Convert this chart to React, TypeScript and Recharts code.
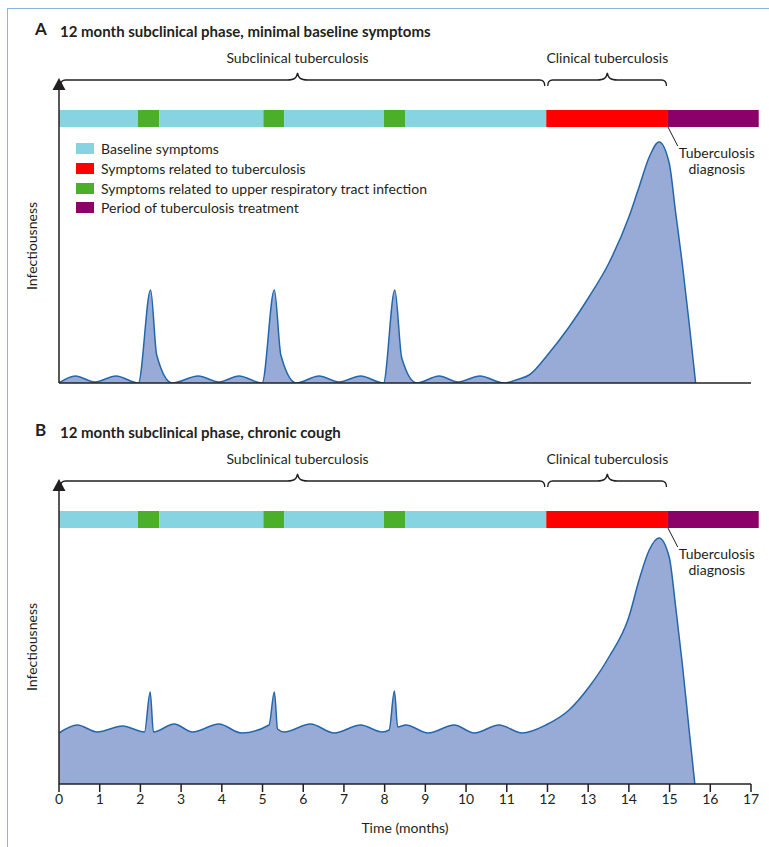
import React from 'react';
import {
  AreaChart,
  Area,
  XAxis,
  YAxis,
  ReferenceArea,
  ReferenceLine,
  ReferenceDot,
  Legend,
} from 'recharts';

const FONT = 'Lato, "Open Sans", "DejaVu Sans", sans-serif';
const INK = '#231F20';

// ---------- data ----------
const monthTicks = [0, 1, 2, 3, 4, 5, 6, 7, 8, 9, 10, 11, 12, 13, 14, 15, 16, 17];

// Panel A: 12 month subclinical phase, minimal baseline symptoms
const monthsA = [0, 0.4, 0.88, 1.4, 1.95, 2.25, 2.4, 2.78, 3.42, 3.93, 4.42, 4.99, 5.29, 5.45, 5.83, 6.39, 6.88, 7.41, 7.97, 8.25, 8.42, 8.79, 9.34, 9.8, 10.34, 10.93, 11.3, 11.55, 12.04, 12.53, 13.02, 13.51, 14.0, 14.25, 14.5, 14.74, 14.99, 15.15, 15.31, 15.48, 15.64];
const infectiousnessA = [0, 7, 1, 7, 0, 93, 28, 0, 7, 1, 7, 0, 93, 28, 0, 7, 1, 7, 0, 93, 25, 0, 7, 1, 7, 0, 4, 8, 30, 56, 86, 120, 166, 196, 226, 241, 220, 170, 120, 60, 0];

// Panel B: 12 month subclinical phase, chronic cough
const monthsB = [0, 0.45, 0.94, 1.56, 2.1, 2.24, 2.32, 2.83, 3.28, 3.93, 4.48, 5.16, 5.29, 5.37, 5.53, 6.18, 6.76, 7.41, 7.94, 8.11, 8.24, 8.32, 8.52, 9.07, 9.71, 10.2, 10.81, 11.38, 11.96, 12.53, 13.02, 13.51, 14.0, 14.25, 14.5, 14.74, 14.99, 15.15, 15.31, 15.48, 15.62];
const infectiousnessB = [51, 59, 52, 58, 52, 92, 52, 60, 52, 60, 51, 59, 92, 55, 52, 60, 51, 59, 52, 54, 93, 57, 59, 51, 59, 51, 59, 51, 59, 74, 97, 127, 167, 204, 234, 246, 227, 177, 121, 54, 0];

// symptom bar segments (months)
const segmentStarts = [0, 1.94, 2.46, 5.02, 5.53, 7.98, 8.5, 11.97, 14.96];
const segmentEnds = [1.94, 2.46, 5.02, 5.53, 7.98, 8.5, 11.97, 14.96, 17.19];
const segmentKinds = ['baseline', 'uri', 'baseline', 'uri', 'baseline', 'uri', 'baseline', 'tb', 'treatment'];

// phases (braces)
const phaseLabels = ['Subclinical tuberculosis', 'Clinical tuberculosis'];
const phaseStarts = [0, 11.97];
const phaseEnds = [11.97, 14.96];
const phaseTips = [5.86, 13.47];

const diagnosisMonth = 14.96;

const legendKinds = ['baseline', 'tb', 'uri', 'treatment'];
const legendLabels = [
  'Baseline symptoms',
  'Symptoms related to tuberculosis',
  'Symptoms related to upper respiratory tract infection',
  'Period of tuberculosis treatment',
];

const panelLetters = ['A', 'B'];
const panelTitles = [
  '12 month subclinical phase, minimal baseline symptoms',
  '12 month subclinical phase, chronic cough',
];

// ---------- styles ----------
const KIND_COLORS: Record<string, string> = {
  baseline: '#86D4E2',
  tb: '#FF0000',
  uri: '#4CAF2A',
  treatment: '#8C0069',
};
const BAR_LOW = 256;
const BAR_HIGH = 273;
const BRACE_LOW = 297;
const BRACE_HIGH = 310;
const Y_MAX = 330;

function Brace(props: any) {
  const { x, y, width, height, tipFrac = 0.5, text } = props;
  const L = x + 1.5;
  const R = x + width - 1.5;
  const T = y;
  const B = y + height;
  const M = y + 7;
  const C = x + width * tipFrac;
  const d = `M${L},${B} Q${L},${M} ${L + 5},${M} L${C - 10},${M} C${C - 3},${M} ${C - 1},${M - 2} ${C},${T} C${C + 1},${M - 2} ${C + 3},${M} ${C + 10},${M} L${R - 5},${M} Q${R},${M} ${R},${B}`;
  return (
    <g>
      <path d={d} fill="none" stroke={INK} strokeWidth={1.3} />
      <text x={C} y={T - 10} textAnchor="middle" fill={INK} fontSize={14} fontFamily={FONT}>
        {text}
      </text>
    </g>
  );
}

function Arrow(props: any) {
  const { cx, cy } = props;
  return <path d={`M${cx},${cy} L${cx + 6.5},${cy + 12} L${cx - 6.5},${cy + 12} Z`} fill={INK} />;
}

function DiagnosisText(props: any) {
  const { cx, cy } = props;
  return (
    <text x={cx} y={cy} textAnchor="middle" fill={INK} fontSize={14} fontFamily={FONT}>
      <tspan x={cx} dy={0}>Tuberculosis</tspan>
      <tspan x={cx} dy={16}>diagnosis</tspan>
    </text>
  );
}

function LegendBox() {
  return (
    <div style={{ fontFamily: FONT }}>
      {legendLabels.map((label, i) => (
        <div key={label} style={{ display: 'flex', alignItems: 'center', height: 19.7 }}>
          <div style={{ width: 18, height: 11, background: KIND_COLORS[legendKinds[i]], marginRight: 7 }} />
          <span style={{ fontSize: 14, color: INK, whiteSpace: 'nowrap' }}>{label}</span>
        </div>
      ))}
    </div>
  );
}

function Panel(props: { index: number; months: number[]; values: number[]; top: number; height: number; axisHeight: number; bottomPanel: boolean }) {
  const { index, months, values, top, height, axisHeight, bottomPanel } = props;
  const rows = months.map((m, i) => ({ m, v: values[i] }));
  return (
    <div style={{ position: 'absolute', left: 0, top, width: 769, height }}>
      <div style={{ position: 'absolute', left: 35, top: 19, fontFamily: FONT, fontWeight: 700, fontSize: 17, color: INK, lineHeight: '20px' }}>
        {panelLetters[index]}
      </div>
      <div style={{ position: 'absolute', left: 60, top: 21, fontFamily: FONT, fontWeight: 700, fontSize: 15, color: INK, lineHeight: '20px', whiteSpace: 'nowrap' }}>
        {panelTitles[index]}
      </div>
      <div style={{ position: 'absolute', left: 31, top: 246, transform: 'translate(-50%, -50%) rotate(-90deg)', fontFamily: FONT, fontSize: 14, color: INK, whiteSpace: 'nowrap' }}>
        Infectiousness
      </div>
      <AreaChart
        width={769}
        height={height}
        data={rows}
        margin={{ top: 53, right: 18, bottom: 0, left: 59 }}
        style={{ fontFamily: FONT, position: 'absolute', left: 0, top: 0 }}
      >
        <XAxis
          dataKey="m"
          type="number"
          domain={[0, 17]}
          ticks={monthTicks}
          interval={0}
          allowDataOverflow
          height={axisHeight}
          tickSize={8}
          axisLine={{ stroke: INK, strokeWidth: 1.5 }}
          tickLine={{ stroke: INK, strokeWidth: 1.5 }}
          tick={bottomPanel ? { fill: INK, fontSize: 14 } : false}
          label={bottomPanel ? { value: 'Time (months)', position: 'insideBottom', offset: 14, fill: INK, fontSize: 14 } : undefined}
        />
        <YAxis hide type="number" domain={[0, Y_MAX]} allowDataOverflow />
        <Area
          type="monotone"
          dataKey="v"
          stroke="#2466AC"
          strokeWidth={1.5}
          fill="#98ABD6"
          fillOpacity={1}
          dot={false}
          activeDot={false}
          isAnimationActive={false}
        />
        {segmentStarts.map((s, i) => (
          <ReferenceArea
            key={`seg${i}`}
            x1={s}
            x2={segmentEnds[i]}
            y1={BAR_LOW}
            y2={BAR_HIGH}
            fill={KIND_COLORS[segmentKinds[i]]}
            fillOpacity={1}
            stroke="none"
            ifOverflow="visible"
          />
        ))}
        {phaseLabels.map((label, i) => (
          <ReferenceArea
            key={`phase${i}`}
            x1={phaseStarts[i]}
            x2={phaseEnds[i]}
            y1={BRACE_LOW}
            y2={BRACE_HIGH}
            ifOverflow="visible"
            shape={<Brace text={label} tipFrac={(phaseTips[i] - phaseStarts[i]) / (phaseEnds[i] - phaseStarts[i])} />}
          />
        ))}
        <ReferenceLine segment={[{ x: 0, y: 0 }, { x: 0, y: 294 }]} stroke={INK} strokeWidth={1.5} ifOverflow="visible" />
        <ReferenceDot x={0} y={305} r={0} ifOverflow="visible" shape={<Arrow />} />
        <ReferenceLine
          segment={[{ x: diagnosisMonth, y: BAR_LOW }, { x: 15.2, y: 237 }]}
          stroke={INK}
          strokeWidth={1}
          ifOverflow="visible"
        />
        <ReferenceDot x={16.16} y={225} r={0} ifOverflow="visible" shape={<DiagnosisText />} />
        {!bottomPanel && (
          <Legend
            layout="vertical"
            align="center"
            verticalAlign="middle"
            wrapperStyle={{ left: 76, top: 139, width: 420 }}
            content={() => <LegendBox />}
          />
        )}
      </AreaChart>
    </div>
  );
}

export default function App() {
  return (
    <div style={{ position: 'absolute', left: 0, top: 0, width: 769, height: 847, background: '#fff', overflow: 'hidden' }}>
      <div style={{ position: 'absolute', left: 7, top: 8, width: 800, height: 900, borderLeft: '1px solid #8FB4E3', borderTop: '1px solid #8FB4E3' }} />
      <Panel index={0} months={monthsA} values={infectiousnessA} top={0} height={401} axisHeight={18} bottomPanel={false} />
      <Panel index={1} months={monthsB} values={infectiousnessB} top={401} height={446} axisHeight={63} bottomPanel />
    </div>
  );
}
